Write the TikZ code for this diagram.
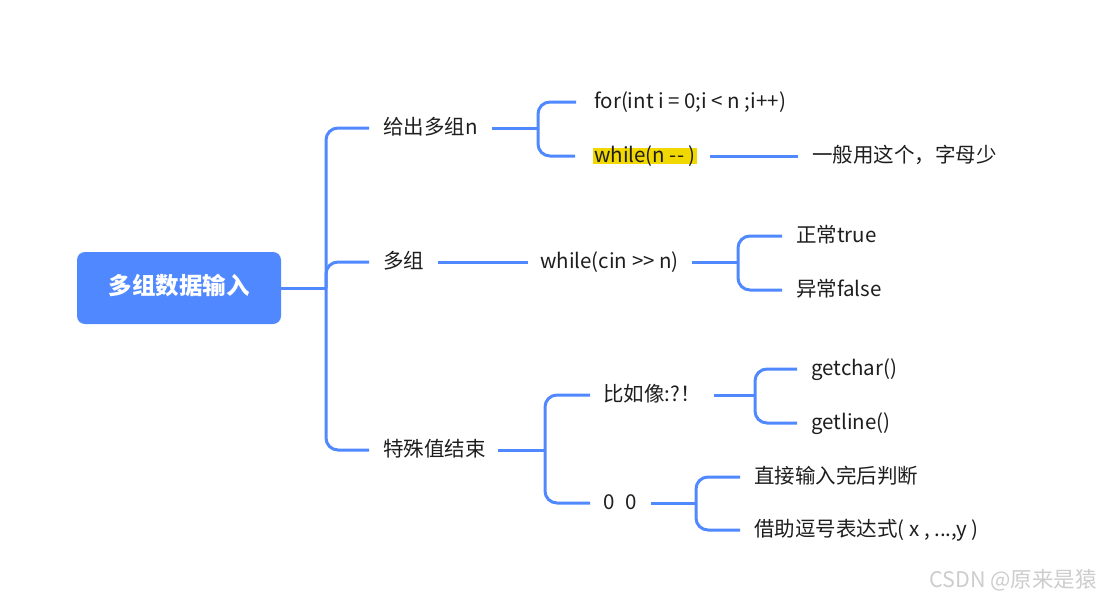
\documentclass[tikz,border=0pt]{standalone}
\usepackage{fontspec}
\setmainfont{Noto Sans CJK SC}
\definecolor{blu}{RGB}{80,136,255}
\definecolor{hl}{RGB}{240,216,0}
\definecolor{txt}{RGB}{30,30,30}
\definecolor{wmc}{RGB}{205,205,205}
\begin{document}
\begin{tikzpicture}[x=1pt,y=-1pt,
  lbl/.style={anchor=west,inner sep=0pt,text height=1.25em,text depth=0em,
    font=\fontsize{20.5}{24}\selectfont,text=txt},
  br/.style={draw=blu,line width=3pt},
  rc/.style={br,rounded corners=12pt}]
\useasboundingbox[fill=white] (0,0) rectangle (1102,602);
% root
\node[fill=blu,rounded corners=8pt,minimum width=204pt,minimum height=72pt,
  inner sep=0pt,text=white,text height=1.25em,text depth=0em,
  font=\fontsize{23.5}{28}\selectfont\bfseries] (root) at (179,288) {多组数据输入};
% level 1
\node[lbl] (a) at (383,128) {给出多组n};
\node[lbl] (b) at (383,262) {多组};
\node[lbl] (c) at (383,450) {特殊值结束};
% level 2
\node[lbl] (a1) at (594,102) {for(int i = 0;i < n ;i++)};
\node[lbl,fill=hl,inner xsep=1pt,inner ysep=2pt] (a2) at (593,156) {while(n -{}- )};
\node[lbl] (a21) at (812,156) {一般用这个，字母少};
\node[lbl] (b1) at (540,262) {while(cin >{}> n)};
\node[lbl] (b11) at (796,236) {正常true};
\node[lbl] (b12) at (796,290) {异常false};
\node[lbl] (c1) at (603,395) {比如像:?！};
\node[lbl] (c2) at (603,503) {0\hspace{0.55em}0};
\node[lbl] (c11) at (811,369) {getchar()};
\node[lbl] (c12) at (811,423) {getline()};
\node[lbl] (c21) at (754,477) {直接输入完后判断};
\node[lbl] (c22) at (754,530) {借助逗号表达式( x , ...,y )};
% watermark
\node[anchor=east,inner sep=0pt,text=wmc,text height=1.25em,text depth=0em,
  font=\fontsize{21.5}{24}\selectfont] (wm) at (1097,581) {CSDN @原来是猿};
% fork points
\coordinate (f0) at (326,288);
\coordinate (fa) at (538,128);
\coordinate (fb) at (738,262);
\coordinate (fc) at (545,450);
\coordinate (fc1) at (755,395);
\coordinate (fc2) at (696,503);
% connectors
\draw[br] (root.east) -- (f0);
\draw[rc] (f0) |- ([xshift=-14pt]a.west);
\draw[rc] (f0) |- ([xshift=-14pt]b.west);
\draw[rc] (f0) |- ([xshift=-14pt]c.west);
\draw[br] ([xshift=14pt]a.east) -- (fa);
\draw[rc] (fa) |- ([xshift=-18pt]a1.west);
\draw[rc] (fa) |- ([xshift=-18pt]a2.west);
\draw[br] ([xshift=13pt]a2.east) -- ([xshift=-14pt]a21.west);
\draw[br] ([xshift=14pt]b.east) -- ([xshift=-12pt]b1.west);
\draw[br] ([xshift=13pt]b1.east) -- (fb);
\draw[rc] (fb) |- ([xshift=-14pt]b11.west);
\draw[rc] (fb) |- ([xshift=-14pt]b12.west);
\draw[br] ([xshift=12pt]c.east) -- (fc);
\draw[rc] (fc) |- ([xshift=-13pt]c1.west);
\draw[rc] (fc) |- ([xshift=-13pt]c2.west);
\draw[br] ([xshift=13pt]c1.east) -- (fc1);
\draw[rc] (fc1) |- ([xshift=-14pt]c11.west);
\draw[rc] (fc1) |- ([xshift=-14pt]c12.west);
\draw[br] ([xshift=14pt]c2.east) -- (fc2);
\draw[rc] (fc2) |- ([xshift=-14pt]c21.west);
\draw[rc] (fc2) |- ([xshift=-14pt]c22.west);
\end{tikzpicture}
\end{document}
